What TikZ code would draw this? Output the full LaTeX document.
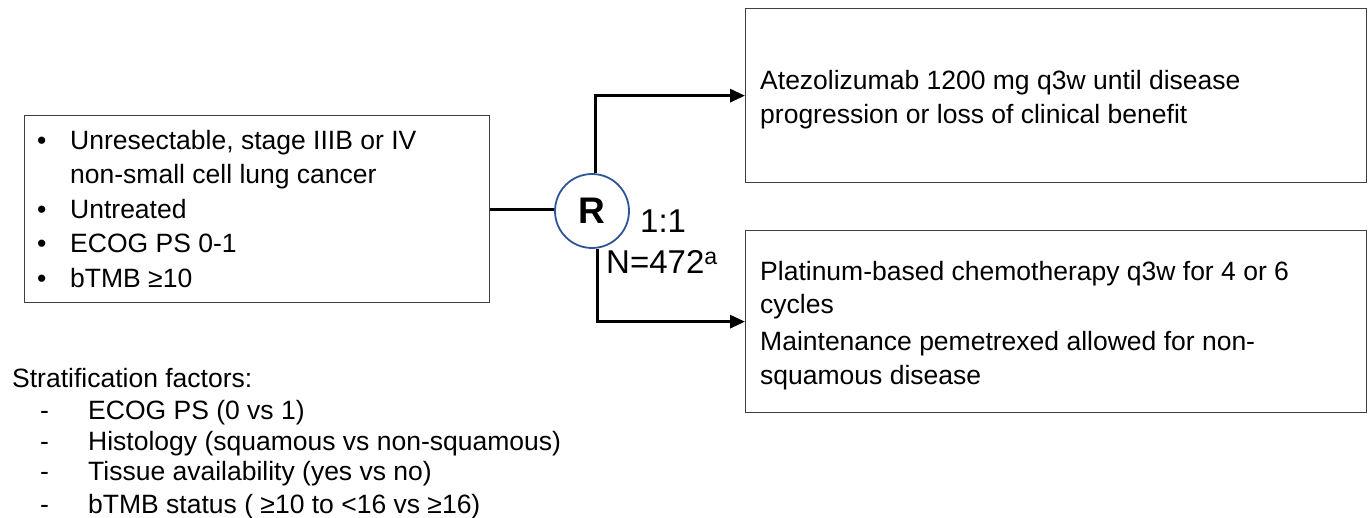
\documentclass[tikz,border=0pt]{standalone}
\usepackage{fontspec}
\setmainfont{Liberation Sans}
\usetikzlibrary{arrows.meta}
\definecolor{boxgray}{HTML}{404040}
\definecolor{rblue}{HTML}{2F5597}
\tikzset{
  box/.style={draw=boxgray, line width=1.3pt, anchor=north west, inner sep=0pt},
  txt/.style={anchor=base west, inner sep=0pt, font=\fontsize{26.5}{33}\selectfont},
  big/.style={anchor=base west, inner sep=0pt, font=\fontsize{33}{38}\selectfont},
  conn/.style={line width=3pt, black},
  arr/.style={conn, -{Triangle[length=15pt,width=13pt]}},
}
\begin{document}
\begin{tikzpicture}[x=1pt,y=-1pt]
\useasboundingbox (0,0) rectangle (1370,518);
% boxes
\node[box, minimum width=465pt, minimum height=187pt] (L) at (24,115) {};
\node[box, minimum width=621pt, minimum height=174pt] (T) at (745,8) {};
\node[box, minimum width=621pt, minimum height=182pt] (B) at (745,230) {};
% circle
\node[draw=rblue, line width=1.8pt, circle, minimum size=74pt, inner sep=0pt, font=\fontsize{37}{37}\selectfont\bfseries] (R) at (592,211) {R};
% left box text
\node[txt] (lb1) at (37,150) {•};
\node[txt] (l1) at (70,150) {Unresectable, stage IIIB or IV};
\node[txt] (l1b) at (70,184) {non-small cell lung cancer};
\node[txt] (lb2) at (37,219) {•};
\node[txt] (l2) at (70,219) {Untreated};
\node[txt] (lb3) at (37,253) {•};
\node[txt] (l3) at (70,253) {ECOG PS 0-1};
\node[txt] (lb4) at (37,288) {•};
\node[txt] (l4) at (70,288) {bTMB ≥10};
% top box text
\node[txt] (t1) at (760,90) {Atezolizumab 1200 mg q3w until disease};
\node[txt] (t2) at (760,124) {progression or loss of clinical benefit};
% bottom box text
\node[txt] (b1) at (760,281) {Platinum-based chemotherapy q3w for 4 or 6};
\node[txt] (b2) at (760,314) {cycles};
\node[txt] (b3) at (760,350) {Maintenance pemetrexed allowed for non-};
\node[txt] (b4) at (760,384) {squamous disease};
% ratio labels
\node[big] (ratio) at (640,233) {1:1};
\node[big] (n) at (606,274) {N=472\textsuperscript{a}};
% stratification
\node[txt] (s0) at (12,387) {Stratification factors:};
\node[txt] (sd1) at (40,419) {-};
\node[txt] (s1) at (88,419) {ECOG PS (0 vs 1)};
\node[txt] (sd2) at (40,450) {-};
\node[txt] (s2) at (88,450) {Histology (squamous vs non-squamous)};
\node[txt] (sd3) at (40,480) {-};
\node[txt] (s3) at (88,480) {Tissue availability (yes vs no)};
\node[txt] (sd4) at (40,513) {-};
\node[txt] (s4) at (88,513) {bTMB status ( ≥10 to <16 vs ≥16)};
% connectors
\draw[conn] (L.east) -- (R.west |- L.east);
\draw[arr] ([xshift=3pt]R.north) |- (T.west);
\draw[arr] ([xshift=5pt]R.south) |- (B.west);
\end{tikzpicture}
\end{document}
